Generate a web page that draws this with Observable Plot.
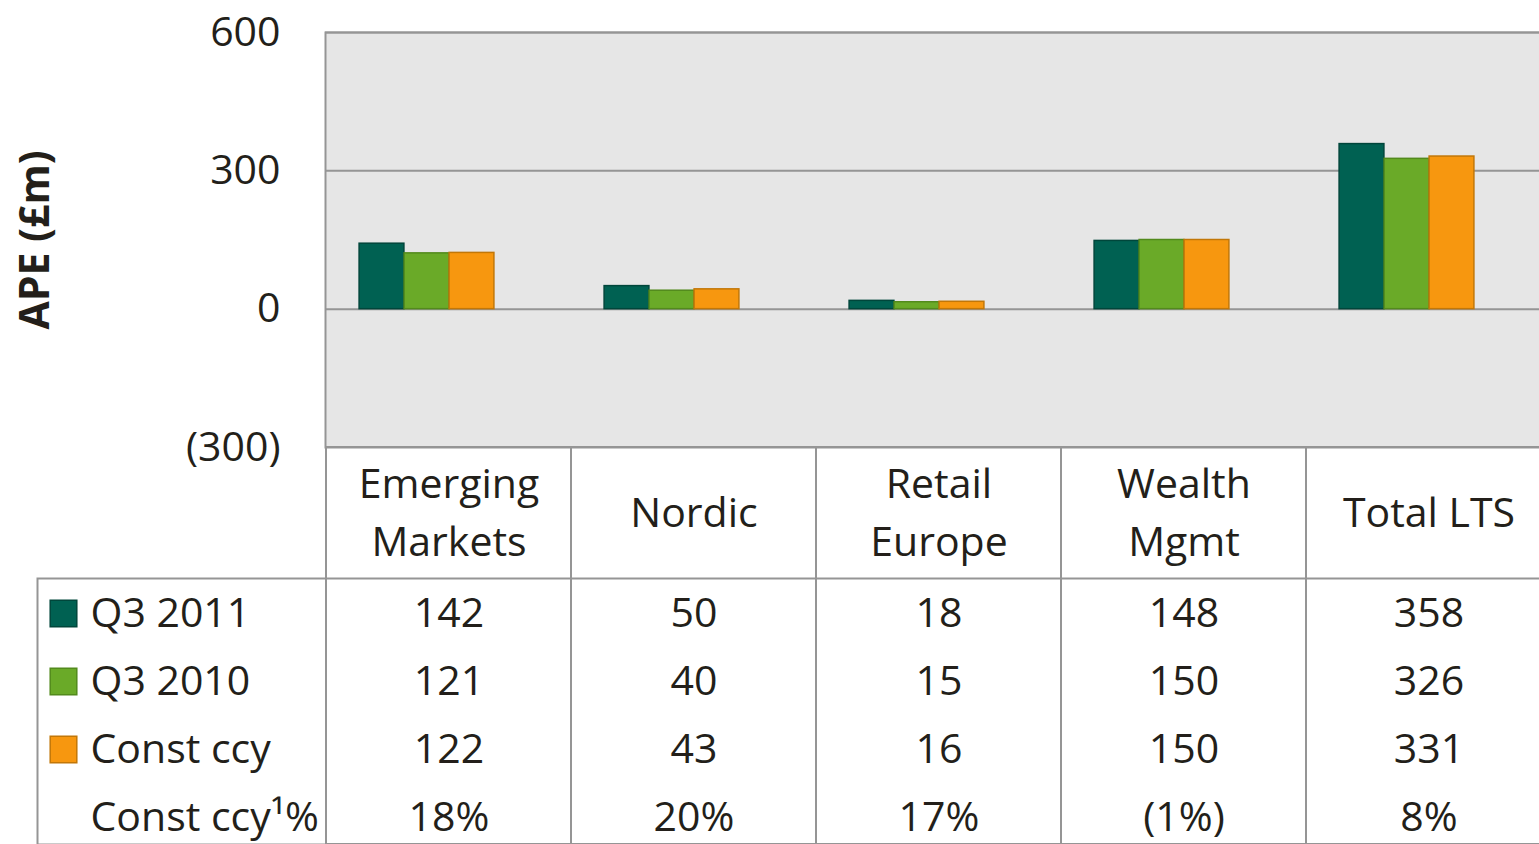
<!DOCTYPE html>
<html><head><meta charset="utf-8">
<script src="https://cdn.jsdelivr.net/npm/d3@7"></script>
<script src="https://cdn.jsdelivr.net/npm/@observablehq/plot@0.6"></script>
<style>body{margin:0;background:#fff;} #chart svg{display:block;}</style>
</head><body><div id="chart"></div>
<script>
const categories = ["Emerging Markets", "Nordic", "Retail Europe", "Wealth Mgmt", "Total LTS"];
const headerLabels = ["Emerging\nMarkets", "Nordic", "Retail\nEurope", "Wealth\nMgmt", "Total LTS"];
const seriesNames = ["Q3 2011", "Q3 2010", "Const ccy"];
const q3_2011 = [142, 50, 18, 148, 358];
const q3_2010 = [121, 40, 15, 150, 326];
const constCcy = [122, 43, 16, 150, 331];
const constCcyPct = [18, 20, 17, -1, 8];
const pctLabel = "Const ccy¹%";
const yTicks = [-300, 0, 300, 600];
const yLabel = "APE (£m)";
const colors = ["#006152", "#6aaa28", "#f7970f"];
const strokes = ["#00463b", "#528a1c", "#c27708"];

const font = "'Open Sans', sans-serif";
const ink = "#231f1a";
const lineColor = "#959595";
const seriesValues = [q3_2011, q3_2010, constCcy];
const fmtNum = d => d < 0 ? `(${-d})` : `${d}`;
const fmtPct = d => d < 0 ? `(${-d}%)` : `${d}%`;

const W = 1539;
const mLeft = 325, mRight = -12;
const bw = (W - mLeft - mRight) / categories.length;
const barW = 45;
const inset = (bw - barW) / 2;
const offsets = [-67, -22, 23];

const barMarks = seriesNames.map((s, si) =>
  Plot.barY(categories.map((c, ci) => ({category: c, value: seriesValues[si][ci]})), {
    x: "category", y: "value", fill: colors[si], stroke: strokes[si], strokeWidth: 1.5,
    insetLeft: inset, insetRight: inset, dx: offsets[si]
  })
);

const chart = Plot.plot({
  width: W, height: 447, marginTop: 32, marginBottom: 0, marginLeft: mLeft, marginRight: mRight,
  style: {fontFamily: font, fontSize: "41px", color: ink, background: "#fff", overflow: "visible"},
  x: {type: "band", domain: categories, padding: 0, axis: null},
  y: {domain: [-300, 600]},
  marks: [
    Plot.frame({fill: "#e6e6e6", stroke: lineColor, strokeWidth: 2}),
    Plot.ruleY([600, 300, 0], {stroke: lineColor, strokeWidth: 2}),
    ...barMarks,
    Plot.axisY({ticks: yTicks, tickSize: 0, tickPadding: 45, tickFormat: fmtNum, label: null}),
    Plot.text([yLabel], {frameAnchor: "left", dx: -290, rotate: -90, textAnchor: "middle", lineAnchor: "middle", fontWeight: "bold"})
  ]
});

const rowNames = [...seriesNames, pctLabel];
const rowValues = [q3_2011.map(fmtNum), q3_2010.map(fmtNum), constCcy.map(fmtNum), constCcyPct.map(fmtPct)];
const cells = rowNames.flatMap((r, ri) => categories.map((c, ci) => ({row: r, category: c, text: rowValues[ri][ci]})));

const swatches = seriesNames.map((s, si) =>
  Plot.dot([s], {y: d => d, frameAnchor: "left", dx: -262, symbol: "square", r: 15,
    fill: colors[si], stroke: strokes[si], strokeWidth: 1.5})
);

const table = Plot.plot({
  width: W, height: 397, marginTop: 0, marginBottom: 0, marginLeft: mLeft, marginRight: mRight,
  style: {fontFamily: font, fontSize: "41px", color: ink, background: "#fff", overflow: "visible"},
  x: {type: "band", domain: categories, padding: 0, axis: null},
  y: {type: "band", domain: rowNames, range: [132, 404], padding: 0, axis: null},
  marks: [
    Plot.frame({insetTop: 131, insetLeft: -288, stroke: lineColor, strokeWidth: 2, fill: "none"}),
    Plot.cell(categories, {x: d => d, stroke: lineColor, strokeWidth: 2, fill: "none", inset: 0}),
    Plot.text(categories, {x: d => d, text: (d, i) => headerLabels[i], frameAnchor: "top", dy: 61, lineAnchor: "middle", lineHeight: 1.4}),
    Plot.text(cells, {x: "category", y: "row", text: "text"}),
    ...swatches,
    Plot.text(rowNames, {y: d => d, text: d => d, frameAnchor: "left", textAnchor: "start", dx: -235})
  ]
});

document.getElementById("chart").append(chart, table);
</script>
</body></html>
